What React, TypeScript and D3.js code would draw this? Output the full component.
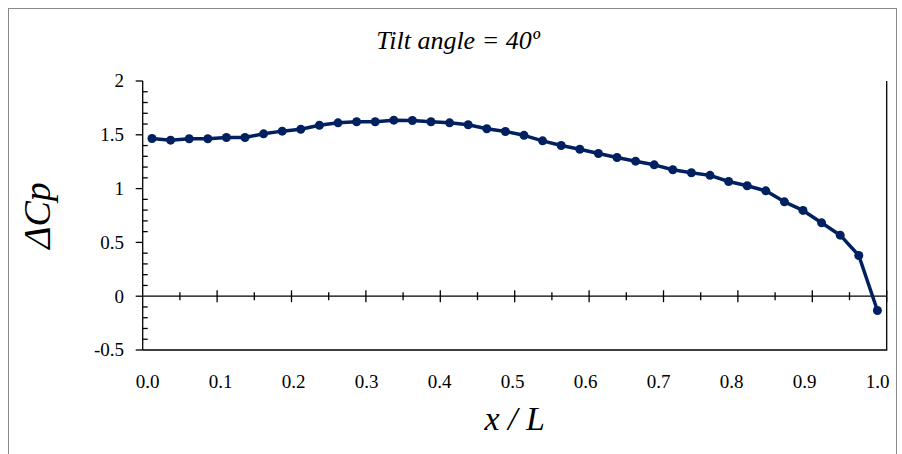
import React, { useEffect, useRef } from "react";
import * as d3 from "d3";

// x / L stations and measured pressure difference
const xStations = [
  0.0125, 0.0375, 0.0625, 0.0875, 0.1125, 0.1375, 0.1625, 0.1875, 0.2125, 0.2375,
  0.2625, 0.2875, 0.3125, 0.3375, 0.3625, 0.3875, 0.4125, 0.4375, 0.4625, 0.4875,
  0.5125, 0.5375, 0.5625, 0.5875, 0.6125, 0.6375, 0.6625, 0.6875, 0.7125, 0.7375,
  0.7625, 0.7875, 0.8125, 0.8375, 0.8625, 0.8875, 0.9125, 0.9375, 0.9625, 0.9875,
];
const deltaCp = [
  1.466, 1.45, 1.463, 1.463, 1.475, 1.475, 1.509, 1.534, 1.552, 1.589,
  1.611, 1.621, 1.621, 1.636, 1.633, 1.621, 1.611, 1.593, 1.556, 1.531,
  1.495, 1.444, 1.401, 1.366, 1.326, 1.289, 1.255, 1.221, 1.175, 1.147,
  1.123, 1.066, 1.026, 0.979, 0.877, 0.797, 0.682, 0.567, 0.378, -0.133,
];
const xTicks = [0, 0.1, 0.2, 0.3, 0.4, 0.5, 0.6, 0.7, 0.8, 0.9, 1.0];
const yTicks = [-0.5, 0, 0.5, 1, 1.5, 2];
const title = "Tilt angle = 40º";

const W = 902;
const H = 454;
const FONT = "Liberation Serif, Tinos, 'Times New Roman', Times, DejaVu Serif, serif";
const NAVY = "#002060";

const App = () => {
  const ref = useRef<SVGSVGElement>(null);

  useEffect(() => {
    const svg = d3.select(ref.current);
    svg.selectAll("*").remove();

    const left = 142.7;
    const right = 886.7;
    const top = 81;
    const bottom = 350;

    const x = d3.scaleLinear().domain([0, 1]).range([left, right]);
    const y = d3.scaleLinear().domain([-0.5, 2]).range([bottom, top]);
    // excel puts the labels a little inside the tick positions
    const xLab = d3.scaleLinear().domain([0, 1]).range([left + 5, right - 9]);

    // chart area border
    svg
      .append("rect")
      .attr("x", 8.5)
      .attr("y", 8.5)
      .attr("width", 888)
      .attr("height", 470)
      .attr("fill", "white")
      .attr("stroke", "#898989")
      .attr("stroke-width", 1);

    // plot area right + bottom edges
    svg
      .append("path")
      .attr("d", `M${right},${top}V${bottom}H${left}`)
      .attr("fill", "none")
      .attr("stroke", "black")
      .attr("stroke-width", 1.3);

    // y axis: major ticks outside, minor inside
    const yAxis = svg.append("g").attr("stroke", "black").attr("stroke-width", 1.3);
    yAxis.append("line").attr("x1", left).attr("x2", left).attr("y1", top).attr("y2", bottom);
    d3.range(-5, 21).forEach((i) => {
      const v = i / 10;
      if (i % 5 === 0) {
        yAxis.append("line").attr("x1", left - 7).attr("x2", left).attr("y1", y(v)).attr("y2", y(v));
      } else {
        yAxis.append("line").attr("x1", left).attr("x2", left + 5).attr("y1", y(v)).attr("y2", y(v));
      }
    });
    svg
      .append("g")
      .selectAll("text")
      .data(yTicks)
      .join("text")
      .attr("x", 124)
      .attr("y", (d) => y(d))
      .attr("dy", "0.34em")
      .attr("text-anchor", "end")
      .attr("font-family", FONT)
      .attr("font-size", 19)
      .text((d) => String(d));

    // x axis crossing at 0
    const xAxis = svg.append("g").attr("stroke", "black").attr("stroke-width", 1.3);
    xAxis.append("line").attr("x1", left).attr("x2", right).attr("y1", y(0)).attr("y2", y(0));
    d3.range(1, 21).forEach((i) => {
      const v = i / 20;
      const len = i % 2 === 0 ? 6 : 4;
      xAxis
        .append("line")
        .attr("x1", x(v))
        .attr("x2", x(v))
        .attr("y1", y(0) - len)
        .attr("y2", y(0) + len);
    });
    svg
      .append("g")
      .selectAll("text")
      .data(xTicks)
      .join("text")
      .attr("x", (d) => xLab(d))
      .attr("y", 388)
      .attr("text-anchor", "middle")
      .attr("font-family", FONT)
      .attr("font-size", 19)
      .text((d) => d3.format(".1f")(d));

    // series
    const pts = xStations.map((d, i) => [d, deltaCp[i]] as [number, number]);
    const line = d3
      .line<[number, number]>()
      .x((d) => x(d[0]))
      .y((d) => y(d[1]));
    svg
      .append("path")
      .datum(pts)
      .attr("d", line)
      .attr("fill", "none")
      .attr("stroke", NAVY)
      .attr("stroke-width", 3.5)
      .attr("stroke-linejoin", "round");
    svg
      .append("g")
      .selectAll("circle")
      .data(pts)
      .join("circle")
      .attr("cx", (d) => x(d[0]))
      .attr("cy", (d) => y(d[1]))
      .attr("r", 4.5)
      .attr("fill", NAVY);

    // titles
    svg
      .append("text")
      .attr("x", 458)
      .attr("y", 49)
      .attr("text-anchor", "middle")
      .attr("font-family", FONT)
      .attr("font-style", "italic")
      .attr("font-size", 26)
      .text(title);
    svg
      .append("text")
      .attr("x", (left + right) / 2)
      .attr("y", 430)
      .attr("text-anchor", "middle")
      .attr("font-family", FONT)
      .attr("font-style", "italic")
      .attr("font-size", 34)
      .text("x / L");
    svg
      .append("text")
      .attr("transform", `translate(50,${(top + bottom) / 2}) rotate(-90)`)
      .attr("text-anchor", "middle")
      .attr("font-family", FONT)
      .attr("font-style", "italic")
      .attr("font-size", 38)
      .text("ΔCp");
  }, []);

  return (
    <svg
      ref={ref}
      width={W}
      height={H}
      style={{ position: "absolute", left: 0, top: 0, background: "white" }}
    />
  );
};

export default App;
